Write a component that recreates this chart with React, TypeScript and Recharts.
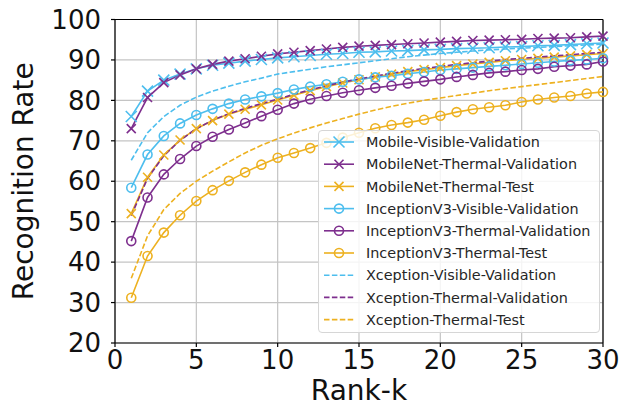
import React from 'react';
import { LineChart, Line, XAxis, YAxis, CartesianGrid, Legend, ReferenceLine } from 'recharts';

const ranks = [1, 2, 3, 4, 5, 6, 7, 8, 9, 10, 11, 12, 13, 14, 15, 16, 17, 18, 19, 20, 21, 22, 23, 24, 25, 26, 27, 28, 29, 30];

const mobileVisibleVal = [76.0, 82.3, 85.0, 86.5, 87.8, 88.7, 89.2, 89.7, 90.1, 90.5, 90.8, 91.1, 91.4, 91.6, 91.9, 92.0, 92.2, 92.3, 92.5, 92.6, 92.8, 92.9, 93.0, 93.2, 93.3, 93.5, 93.6, 93.8, 94.0, 94.2];
const mobileThermalVal = [73.0, 80.7, 84.4, 86.3, 87.8, 88.9, 89.7, 90.3, 90.9, 91.5, 91.9, 92.3, 92.7, 93.1, 93.4, 93.6, 93.8, 94.0, 94.2, 94.4, 94.6, 94.8, 94.9, 95.0, 95.1, 95.3, 95.4, 95.5, 95.7, 95.9];
const mobileThermalTest = [52.0, 61.0, 66.5, 70.2, 73.0, 75.0, 76.6, 77.8, 78.9, 80.1, 81.3, 82.4, 83.4, 84.3, 85.1, 85.8, 86.5, 87.1, 87.6, 88.1, 88.6, 89.0, 89.4, 89.8, 90.1, 90.4, 90.7, 91.0, 91.3, 91.6];
const inceptionVisibleVal = [58.4, 66.6, 71.2, 74.3, 76.4, 77.9, 79.2, 80.2, 81.0, 81.8, 82.7, 83.4, 84.0, 84.6, 85.2, 85.7, 86.1, 86.6, 87.0, 87.5, 87.8, 88.1, 88.4, 88.7, 89.0, 89.3, 89.6, 89.9, 90.1, 90.4];
const inceptionThermalVal = [45.2, 56.0, 61.7, 65.5, 68.7, 71.0, 72.8, 74.4, 76.1, 77.7, 79.2, 80.3, 81.1, 81.9, 82.5, 83.1, 83.6, 84.2, 84.7, 85.2, 85.8, 86.3, 86.8, 87.1, 87.5, 87.8, 88.3, 88.6, 88.9, 89.6];
const inceptionThermalTest = [31.2, 41.5, 47.3, 51.6, 55.1, 57.8, 60.1, 62.2, 64.1, 65.8, 67.0, 68.2, 69.5, 70.8, 72.0, 73.1, 73.9, 74.5, 75.2, 76.2, 77.1, 77.8, 78.3, 78.8, 79.6, 80.2, 80.7, 81.1, 81.7, 82.1];
const xceptionVisibleVal = [65.2, 72.0, 76.0, 78.8, 80.8, 82.3, 83.5, 84.6, 85.5, 86.5, 87.1, 87.7, 88.3, 88.8, 89.3, 89.8, 90.3, 90.8, 91.2, 91.6, 91.9, 92.2, 92.5, 92.7, 92.9, 93.1, 93.3, 93.5, 93.7, 93.9];
const xceptionThermalVal = [51.5, 60.7, 66.3, 70.1, 73.0, 75.1, 76.7, 78.0, 79.2, 80.3, 81.5, 82.6, 83.6, 84.5, 85.3, 86.0, 86.7, 87.3, 87.9, 88.4, 88.9, 89.3, 89.7, 90.1, 90.4, 90.7, 91.0, 91.3, 91.6, 91.9];
const xceptionThermalTest = [36.0, 46.5, 53.0, 57.0, 60.0, 62.5, 64.8, 67.0, 68.9, 70.5, 71.9, 73.2, 74.4, 75.5, 76.6, 77.6, 78.5, 79.3, 80.0, 80.6, 81.2, 81.8, 82.4, 82.9, 83.4, 83.9, 84.4, 84.9, 85.4, 85.9];

const xTicks = [0, 5, 10, 15, 20, 25, 30];
const yTicks = [20, 30, 40, 50, 60, 70, 80, 90, 100];

const BLUE = '#4DBEEE';
const PURPLE = '#7E2F8E';
const ORANGE = '#EDB120';

type Series = { key: string; name: string; color: string; marker: 'x' | 'o' | 'none'; size: number; values: number[] };

const series: Series[] = [
  { key: 's0', name: 'Mobile-Visible-Validation', color: BLUE, marker: 'x', size: 5.5, values: mobileVisibleVal },
  { key: 's1', name: 'MobileNet-Thermal-Validation', color: PURPLE, marker: 'x', size: 4.5, values: mobileThermalVal },
  { key: 's2', name: 'MobileNet-Thermal-Test', color: ORANGE, marker: 'x', size: 4.5, values: mobileThermalTest },
  { key: 's3', name: 'InceptionV3-Visible-Validation', color: BLUE, marker: 'o', size: 4.5, values: inceptionVisibleVal },
  { key: 's4', name: 'InceptionV3-Thermal-Validation', color: PURPLE, marker: 'o', size: 4.5, values: inceptionThermalVal },
  { key: 's5', name: 'InceptionV3-Thermal-Test', color: ORANGE, marker: 'o', size: 4.5, values: inceptionThermalTest },
  { key: 's6', name: 'Xception-Visible-Validation', color: BLUE, marker: 'none', size: 0, values: xceptionVisibleVal },
  { key: 's7', name: 'Xception-Thermal-Validation', color: PURPLE, marker: 'none', size: 0, values: xceptionThermalVal },
  { key: 's8', name: 'Xception-Thermal-Test', color: ORANGE, marker: 'none', size: 0, values: xceptionThermalTest },
];

const data = ranks.map((k, i) => {
  const row: Record<string, number> = { k };
  series.forEach((s) => {
    row[s.key] = s.values[i];
  });
  return row;
});

const FONT = '"DejaVu Sans", sans-serif';

function Marker({ cx, cy, marker, size, color }: { cx: number; cy: number; marker: string; size: number; color: string }) {
  if (marker === 'x') {
    return (
      <path
        d={`M${cx - size},${cy - size}L${cx + size},${cy + size}M${cx - size},${cy + size}L${cx + size},${cy - size}`}
        stroke={color}
        strokeWidth={1.6}
        fill="none"
      />
    );
  }
  if (marker === 'o') {
    return <circle cx={cx} cy={cy} r={size} stroke={color} strokeWidth={1.6} fill="none" />;
  }
  return null;
}

const makeDot = (s: Series) => (props: any) => {
  const { cx, cy, index } = props;
  if (cx == null || cy == null) return <g key={`d-${s.key}-${index}`} />;
  return (
    <g key={`d-${s.key}-${index}`}>
      <Marker cx={cx} cy={cy} marker={s.marker} size={s.size} color={s.color} />
    </g>
  );
};

const LEG_W = 282;
const LEG_H = 203;

const renderLegend = () => (
  <div
    style={{
      width: LEG_W,
      height: LEG_H,
      boxSizing: 'border-box',
      background: 'rgba(255,255,255,0.82)',
      border: '1px solid #d6d6d6',
      borderRadius: 4,
    }}
  >
    <svg width={LEG_W - 2} height={LEG_H - 2} style={{ display: 'block' }}>
      {series.map((s, i) => {
        const cy = 11 + i * 22.2;
        return (
          <g key={s.key}>
            <line
              x1={5}
              x2={35}
              y1={cy}
              y2={cy}
              stroke={s.color}
              strokeWidth={1.6}
              strokeDasharray={s.marker === 'none' ? '5.5 2.4' : undefined}
            />
            <Marker cx={20} cy={cy} marker={s.marker} size={s.size} color={s.color} />
            <text x={47} y={cy + 5.2} fontFamily={FONT} fontSize={14.4} fill="#262626">
              {s.name}
            </text>
          </g>
        );
      })}
    </svg>
  </div>
);

export default function App() {
  return (
    <div style={{ position: 'absolute', left: 0, top: 0, width: 628, height: 411, background: '#fff' }}>
      <LineChart width={628} height={411} data={data} margin={{ top: 19.5, right: 25, bottom: 10, left: 0 }}>
        <CartesianGrid stroke="#c4c4c4" strokeWidth={1.2} vertical horizontal />
        <XAxis
          dataKey="k"
          type="number"
          domain={[0, 30]}
          ticks={xTicks}
          height={58}
          tickSize={4}
          tickMargin={4}
          axisLine={{ stroke: '#000', strokeWidth: 1.2 }}
          tickLine={{ stroke: '#000', strokeWidth: 1.2 }}
          tick={{ fontFamily: FONT, fontSize: 26, fill: '#111' }}
          label={{
            content: (p: any) => {
              const vb = p.viewBox || { x: 115, y: 343, width: 488 };
              return (
                <text x={vb.x + vb.width / 2} y={400} textAnchor="middle" fontFamily={FONT} fontSize={28} fill="#111">
                  Rank-k
                </text>
              );
            },
          }}
        />
        <YAxis
          type="number"
          domain={[20, 100]}
          ticks={yTicks}
          width={115}
          tickSize={4}
          tickMargin={10}
          axisLine={{ stroke: '#000', strokeWidth: 1.2 }}
          tickLine={{ stroke: '#000', strokeWidth: 1.2 }}
          tick={{ fontFamily: FONT, fontSize: 26, fill: '#111' }}
          label={{
            content: (p: any) => {
              const vb = p.viewBox || { y: 19.5, height: 323.5 };
              const cy = vb.y + vb.height / 2;
              return (
                <text x={33} y={cy} transform={`rotate(-90, 33, ${cy})`} textAnchor="middle" fontFamily={FONT} fontSize={28} fill="#111">
                  Recognition Rate
                </text>
              );
            },
          }}
        />
        <ReferenceLine y={100} stroke="#000" strokeWidth={1.2} ifOverflow="extendDomain" />
        <ReferenceLine x={30} stroke="#000" strokeWidth={1.2} ifOverflow="extendDomain" />
        {series.map((s) => (
          <Line
            key={s.key}
            dataKey={s.key}
            name={s.name}
            type="linear"
            stroke={s.color}
            strokeWidth={1.6}
            strokeDasharray={s.marker === 'none' ? '5.5 2.4' : undefined}
            dot={s.marker === 'none' ? false : makeDot(s)}
            activeDot={false}
            isAnimationActive={false}
          />
        ))}
        <Legend
          layout="vertical"
          align="center"
          verticalAlign="middle"
          content={renderLegend}
          wrapperStyle={{ left: 318, top: 130, width: LEG_W, height: LEG_H }}
        />
      </LineChart>
    </div>
  );
}
